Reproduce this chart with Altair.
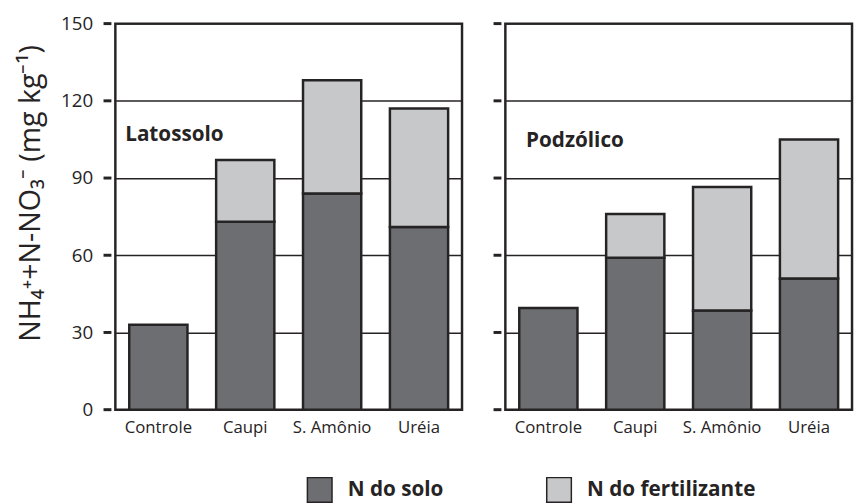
import altair as alt
import pandas as pd

categories = ["Controle", "Caupi", "S. Amônio", "Uréia"]
components = ["N do solo", "N do fertilizante"]
lat_solo = [33, 73, 84, 71]
lat_fert = [0, 24, 44, 46]
pod_solo = [39.5, 59, 38.5, 51]
pod_fert = [0, 17, 48, 54]
panel_names = ["Latossolo", "Podzólico"]
y_ticks = [0, 30, 60, 90, 120, 150]

FONT = "Open Sans"
INK = "#262324"
DARK = "#6d6e71"
LIGHT = "#c7c8ca"

rows = []
for panel_name, solo, fert in [(panel_names[0], lat_solo, lat_fert), (panel_names[1], pod_solo, pod_fert)]:
    for c, s, f in zip(categories, solo, fert):
        rows.append(dict(panel=panel_name, cat=c, comp=components[0], ord=0, value=s))
        if f > 0:
            rows.append(dict(panel=panel_name, cat=c, comp=components[1], ord=1, value=f))
df = pd.DataFrame(rows)
tick_df = pd.DataFrame({"v": y_ticks})

YTITLE = "NH₄⁺+N-NO₃⁻ (mg kg⁻¹)"


def y_axis(with_labels):
    kw = dict(values=y_ticks, domain=False, ticks=False, offset=12, grid=True,
              gridColor=INK, gridWidth=1.5)
    if with_labels:
        kw.update(
            labels=True, labelPadding=11, labelFontSize=19, labelFont=FONT, labelColor=INK,
            title=YTITLE, titleFont=FONT, titleFontSize=29, titleFontWeight="normal",
            titleColor=INK, titlePadding=15, titleY=172, titleAlign="center",
        )
    else:
        kw.update(labels=False, title=None)
    return alt.Axis(**kw)


def panel(name, with_labels, label_x, label_y):
    yscale = alt.Scale(domain=[0, 150], nice=False)
    yax = y_axis(with_labels)
    bars = alt.Chart(df).transform_filter(alt.datum.panel == name).mark_bar(
        stroke=INK, strokeWidth=2.5, opacity=1
    ).encode(
        x=alt.X(
            "cat:N", sort=categories,
            scale=alt.Scale(paddingInner=0.33, paddingOuter=0.16),
            axis=alt.Axis(title=None, labelAngle=0, ticks=False, domain=False, labelPadding=10,
                          labelFontSize=17, labelFont=FONT, labelColor=INK),
        ),
        y=alt.Y("value:Q", stack="zero", scale=yscale, axis=yax),
        color=alt.Color(
            "comp:N",
            scale=alt.Scale(domain=components, range=[DARK, LIGHT]),
            legend=alt.Legend(
                title=None, orient="none", legendX=194, legendY=460, direction="horizontal",
                symbolType="square", symbolSize=625, symbolStrokeColor=INK, symbolStrokeWidth=1.5,
                symbolOpacity=1, labelFont=FONT, labelFontSize=21, labelFontWeight="bold",
                labelColor=INK, labelOffset=15, columnPadding=101, labelLimit=400,
            ),
        ),
        order=alt.Order("ord:Q", sort="ascending"),
    )
    # outside tick marks of the y axis, separated from the frame by a small gap
    ticks = alt.Chart(tick_df).mark_rule(color=INK, strokeWidth=3).encode(
        y=alt.Y("v:Q", scale=yscale, axis=yax),
        x=alt.value(-12),
        x2=alt.value(-4),
    )
    text = alt.Chart(pd.DataFrame({"label": [name]})).mark_text(
        align="left", baseline="middle", fontWeight="bold", font=FONT, fontSize=21, color=INK
    ).encode(
        x=alt.value(label_x),
        y=alt.datum(label_y, scale=yscale, axis=yax),
        text="label:N",
    )
    return alt.layer(bars, ticks, text).properties(width=352, height=392)


left = panel(panel_names[0], True, 10, 106.5)
right = panel(panel_names[1], False, 21, 104.5)

chart = alt.hconcat(left, right, spacing=44, bounds="flush").properties(
    padding={"left": 8, "top": 1, "right": 0, "bottom": 0},
    background="white",
).configure_view(stroke=INK, strokeWidth=2.5)

chart.save("out.html", embed_options={"renderer": "svg", "actions": False})
